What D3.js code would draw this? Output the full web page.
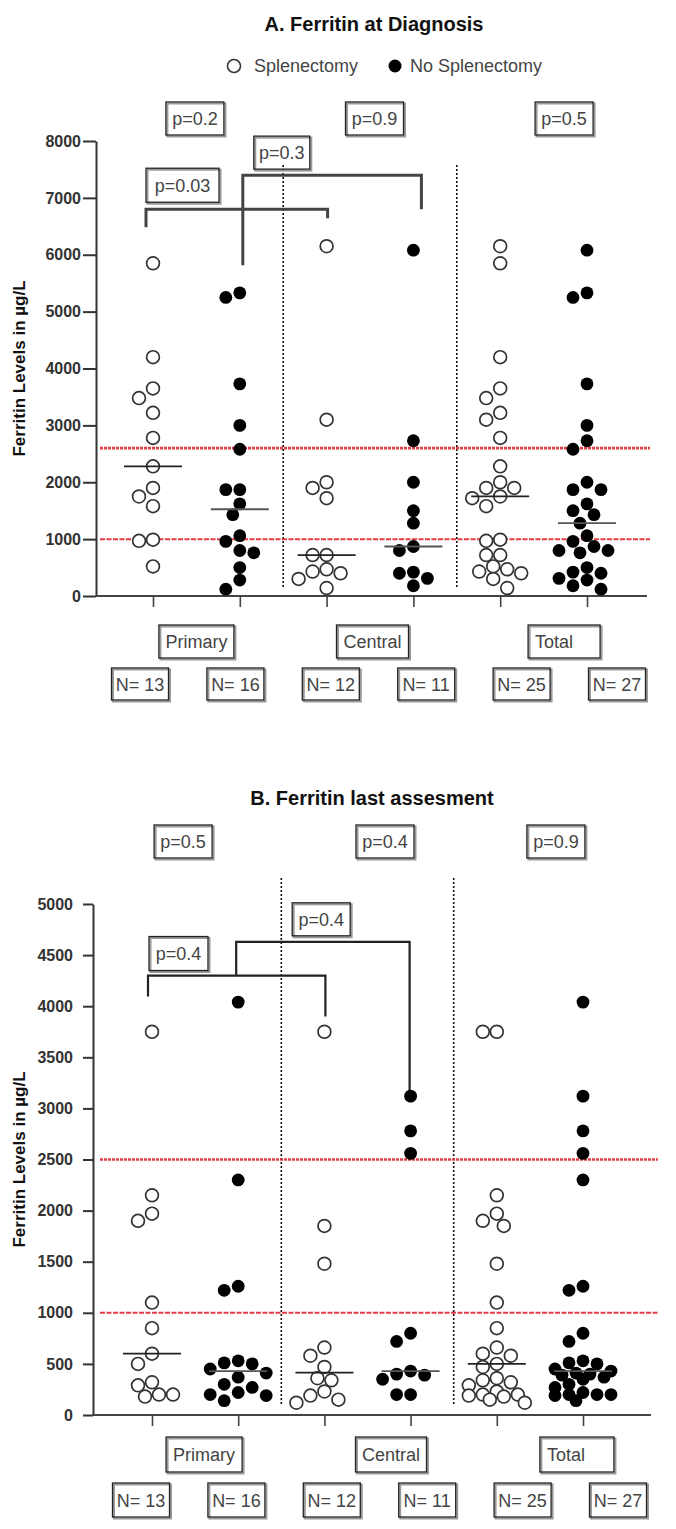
<!DOCTYPE html>
<html><head><meta charset="utf-8">
<script src="https://cdn.jsdelivr.net/npm/d3@7"></script>
<style>
body{margin:0;background:#fff;}
text{font-family:"Liberation Sans",Arial,Helvetica,sans-serif;}
</style>
</head><body>
<svg id="chart" width="676" height="1529"></svg>
<script>
// ---------- DATA ----------
const categories = ["Primary", "Central", "Total"];
const groups = ["Splenectomy", "No Splenectomy"];

// Panel A: ferritin at diagnosis (µg/L)
const aPrimarySplen   = [5850, 4200, 3650, 3480, 3220, 2780, 2280, 1900, 1750, 1580, 990, 970, 520];
const aPrimaryNoSplen = [5330, 5250, 3730, 3000, 2580, 1870, 1870, 1620, 1430, 1060, 960, 800, 760, 500, 280, 120];
const aCentralSplen   = [6150, 3100, 2000, 1900, 1720, 720, 720, 470, 430, 400, 300, 140];
const aCentralNoSplen = [6080, 2730, 2000, 1500, 1280, 870, 800, 420, 400, 310, 180];

// Panel B: ferritin at last assessment (µg/L)
const bPrimarySplen   = [3750, 2150, 1970, 1900, 1100, 850, 600, 500, 320, 290, 200, 200, 180];
const bPrimaryNoSplen = [4040, 2300, 1260, 1220, 530, 510, 500, 450, 410, 370, 300, 270, 220, 200, 190, 140];
const bCentralSplen   = [3750, 1850, 1480, 660, 580, 470, 360, 340, 230, 190, 150, 120];
const bCentralNoSplen = [3120, 2780, 2560, 800, 720, 430, 400, 390, 350, 200, 200];

const aTicks = [0, 1000, 2000, 3000, 4000, 5000, 6000, 7000, 8000];
const bTicks = [0, 500, 1000, 1500, 2000, 2500, 3000, 3500, 4000, 4500, 5000];
const aThresholds = [2600, 1000];
const bThresholds = [2500, 1000];
const aGroupP = ["p=0.2", "p=0.9", "p=0.5"];
const bGroupP = ["p=0.5", "p=0.4", "p=0.9"];
const aBracketP = ["p=0.03", "p=0.3"];
const bBracketP = ["p=0.4", "p=0.4"];

// ---------- RENDER ----------
const svg = d3.select("#chart");
const FONT = '"Liberation Sans",Arial,Helvetica,sans-serif';

function box(g, x, y, w, h, label, align) {
  g.append("rect").attr("x", x + 1.5).attr("y", y + 1.5).attr("width", w).attr("height", h)
    .attr("fill", "none").attr("stroke", "#9a9a9a").attr("stroke-width", 2);
  g.append("rect").attr("x", x).attr("y", y).attr("width", w).attr("height", h)
    .attr("fill", "none").attr("stroke", "#222").attr("stroke-width", 1.3);
  g.append("text").attr("x", align === "left" ? x + 7 : x + w / 2).attr("y", y + h / 2 + 6.5)
    .attr("text-anchor", align === "left" ? "start" : "middle")
    .attr("font-size", 18).attr("fill", "#444").text(label);
}

// simple beeswarm: sorted by value, offsets tried 0, -s, +s, -2s, ...; limited width, overlap allowed when crowded
function swarm(values, cx, y, D, step, maxK) {
  const placed = [];
  const sorted = values.slice().sort((a, b) => b - a);
  for (const v of sorted) {
    const py = y(v);
    let best = cx, bestScore = -1;
    for (let k = 0; k <= 2 * maxK; k++) {
      const off = k === 0 ? 0 : (k % 2 ? -Math.ceil(k / 2) : Math.ceil(k / 2)) * step;
      const px = cx + off;
      const md = placed.length ? d3.min(placed, q => Math.hypot(q.x - px, q.y - py)) : Infinity;
      if (md >= D) { best = px; bestScore = md; break; }
      if (md > bestScore) { bestScore = md; best = px; }
    }
    placed.push({ v, x: best, y: py });
  }
  return placed;
}

function drawPanel(cfg) {
  const L = cfg.layout;
  const g = svg.append("g");
  const series = [cfg.data[0], cfg.data[1], cfg.data[2], cfg.data[3],
                  cfg.data[0].concat(cfg.data[2]), cfg.data[1].concat(cfg.data[3])];
  const keys = [];
  categories.forEach(c => groups.forEach(s => keys.push(c + "|" + s)));

  const x = d3.scalePoint().domain(keys).range(L.xRange);
  const y = d3.scaleLinear().domain([0, cfg.ticks[cfg.ticks.length - 1]]).range(L.yRange);

  // title
  g.append("text").attr("x", L.titleX).attr("y", L.titleY).attr("text-anchor", "middle")
    .attr("font-size", 20).attr("font-weight", "bold").attr("fill", "#111").text(cfg.title);

  // y axis
  const ya = g.append("g").attr("transform", `translate(${L.axisX[0]},0)`)
    .call(d3.axisLeft(y).tickValues(cfg.ticks).tickFormat(d3.format("d"))
      .tickSize(L.tickSize).tickPadding(L.tickPad).tickSizeOuter(0));
  ya.select(".domain").attr("stroke", "#333").attr("stroke-width", 2);
  ya.selectAll(".tick line").attr("stroke", "#333").attr("stroke-width", 2);
  ya.selectAll(".tick text").attr("font-size", 16).attr("font-weight", "bold").attr("fill", "#333")
    .attr("font-family", FONT);

  g.append("text").attr("transform", `translate(${L.yTitleX},${(L.yRange[0] + L.yRange[1]) / 2}) rotate(-90)`)
    .attr("text-anchor", "middle").attr("font-size", 17).attr("font-weight", "bold").attr("fill", "#111")
    .text("Ferritin Levels in µg/L");

  // x axis
  g.append("line").attr("x1", L.axisX[0]).attr("x2", L.axisX[1]).attr("y1", y(0)).attr("y2", y(0))
    .attr("stroke", "#444").attr("stroke-width", 2);
  const xa = g.append("g").attr("transform", `translate(0,${y(0)})`)
    .call(d3.axisBottom(x).tickSize(11).tickFormat(""));
  xa.select(".domain").remove();
  xa.selectAll(".tick line").attr("stroke", "#444").attr("stroke-width", 1.6);

  // separators
  [1, 3].forEach(i => {
    const sx = (x(keys[i]) + x(keys[i + 1])) / 2;
    g.append("line").attr("x1", sx).attr("x2", sx).attr("y1", L.sepY[0]).attr("y2", L.sepY[1])
      .attr("stroke", "#111").attr("stroke-width", 1.6).attr("stroke-dasharray", "2,2");
  });

  // thresholds
  cfg.thresholds.forEach((t, i) => {
    g.append("line").attr("x1", L.redX[0]).attr("x2", L.redX[1]).attr("y1", y(t)).attr("y2", y(t))
      .attr("stroke", "#e2323c").attr("stroke-width", i === 0 ? 2.6 : 2)
      .attr("stroke-dasharray", i === 0 ? "3,1" : "5,1.5").attr("opacity", 0.95);
  });

  // brackets
  L.brackets.forEach((b, i) => {
    const xl = x(keys[b.from]) + b.dxL, xr = x(keys[b.to]) + b.dxR, yb = y(b.val);
    g.append("path").attr("d", `M${xl},${yb + b.legL}V${yb}H${xr}V${yb + b.legR}`)
      .attr("fill", "none").attr("stroke", L.bracketColor).attr("stroke-width", L.bracketW);
    box(g, xl + b.boxDx, yb - b.gap - b.h, b.w, b.h, cfg.bracketP[i], "mid");
  });

  // points
  series.forEach((vals, i) => {
    const cx = x(keys[i]);
    const open = i % 2 === 0;
    const pts = swarm(vals, cx, y, 12.5, 7, 4);
    g.selectAll(null).data(pts).enter().append("circle")
      .attr("cx", d => d.x).attr("cy", d => d.y).attr("r", 6.4)
      .attr("fill", open ? "#fff" : "#000")
      .attr("stroke", open ? "#333" : "none").attr("stroke-width", 1.7);
    const m = d3.median(vals);
    g.append("line").attr("x1", cx - 29).attr("x2", cx + 29).attr("y1", y(m)).attr("y2", y(m))
      .attr("stroke", open ? "#222" : "#555").attr("stroke-width", 1.8);
  });

  // group p-values
  cfg.groupP.forEach((p, i) => {
    const mid = (x(keys[2 * i]) + x(keys[2 * i + 1])) / 2 + L.pOff[i];
    box(g, mid - 29, L.pY, 58, 33, p, "mid");
  });

  // category label boxes
  categories.forEach((c, i) => {
    const mid = (x(keys[2 * i]) + x(keys[2 * i + 1])) / 2 + L.catOff[i];
    const w = L.catW[i];
    box(g, mid - w / 2, L.catY, w, L.catH, c, i === 2 ? "left" : "mid");
  });

  // N boxes
  series.forEach((vals, i) => {
    const cxN = L.nX0 + i * L.nStep;
    box(g, cxN - 28.5, L.nY, 57, L.nH, "N= " + vals.length, "mid");
  });

  // legend
  if (cfg.legend) {
    const lg = g.append("g");
    lg.append("circle").attr("cx", 234).attr("cy", 66).attr("r", 6.5).attr("fill", "#fff")
      .attr("stroke", "#333").attr("stroke-width", 1.6);
    lg.append("text").attr("x", 254).attr("y", 72).attr("font-size", 18).attr("fill", "#444").text(groups[0]);
    lg.append("circle").attr("cx", 395).attr("cy", 66).attr("r", 6.5).attr("fill", "#000");
    lg.append("text").attr("x", 410).attr("y", 72).attr("font-size", 18).attr("fill", "#444").text(groups[1]);
  }
}

drawPanel({
  title: "A. Ferritin at Diagnosis",
  data: [aPrimarySplen, aPrimaryNoSplen, aCentralSplen, aCentralNoSplen],
  ticks: aTicks, thresholds: aThresholds, groupP: aGroupP, bracketP: aBracketP, legend: true,
  layout: {
    titleX: 374, titleY: 31, xRange: [153, 587], yRange: [596, 141], axisX: [96, 647],
    tickSize: 13, tickPad: 2, yTitleX: 25, sepY: [165, 587], redX: [100, 650],
    bracketColor: "#444", bracketW: 3,
    brackets: [
      { from: 0, to: 2, val: 6800, dxL: -7, dxR: 1, legL: 18, legR: 9, boxDx: 0, w: 73, h: 34, gap: 7 },
      { from: 1, to: 3, val: 7400, dxL: 3, dxR: 8, legL: 90, legR: 34, boxDx: 11, w: 56, h: 33, gap: 6 }
    ],
    pOff: [-1.5, 4.5, 20.5], pY: 102,
    catOff: [0, 2.5, 20.5], catW: [75, 72, 72], catY: 625, catH: 33,
    nX0: 140, nStep: 95.4, nY: 668, nH: 32
  }
});

drawPanel({
  title: "B. Ferritin last assesment",
  data: [bPrimarySplen, bPrimaryNoSplen, bCentralSplen, bCentralNoSplen],
  ticks: bTicks, thresholds: bThresholds, groupP: bGroupP, bracketP: bBracketP, legend: false,
  layout: {
    titleX: 372, titleY: 805, xRange: [152, 583], yRange: [1415, 904], axisX: [93, 651],
    tickSize: 10, tickPad: 10, yTitleX: 25, sepY: [878, 1405], redX: [100, 658],
    bracketColor: "#222", bracketW: 2.2,
    brackets: [
      { from: 0, to: 2, val: 4300, dxL: -4, dxR: 1, legL: 21, legR: 41, boxDx: 1, w: 59, h: 34, gap: 5 },
      { from: 1, to: 3, val: 4630, dxL: -2, dxR: -1, legL: 34, legR: 153, boxDx: 56, w: 58, h: 33, gap: 6 }
    ],
    pOff: [-12, 17.5, 16], pY: 825,
    catOff: [9, 23.5, 37], catW: [76, 71, 74], catY: 1437, catH: 35,
    nX0: 141, nStep: 95.4, nY: 1483, nH: 34
  }
});
</script>
</body></html>
